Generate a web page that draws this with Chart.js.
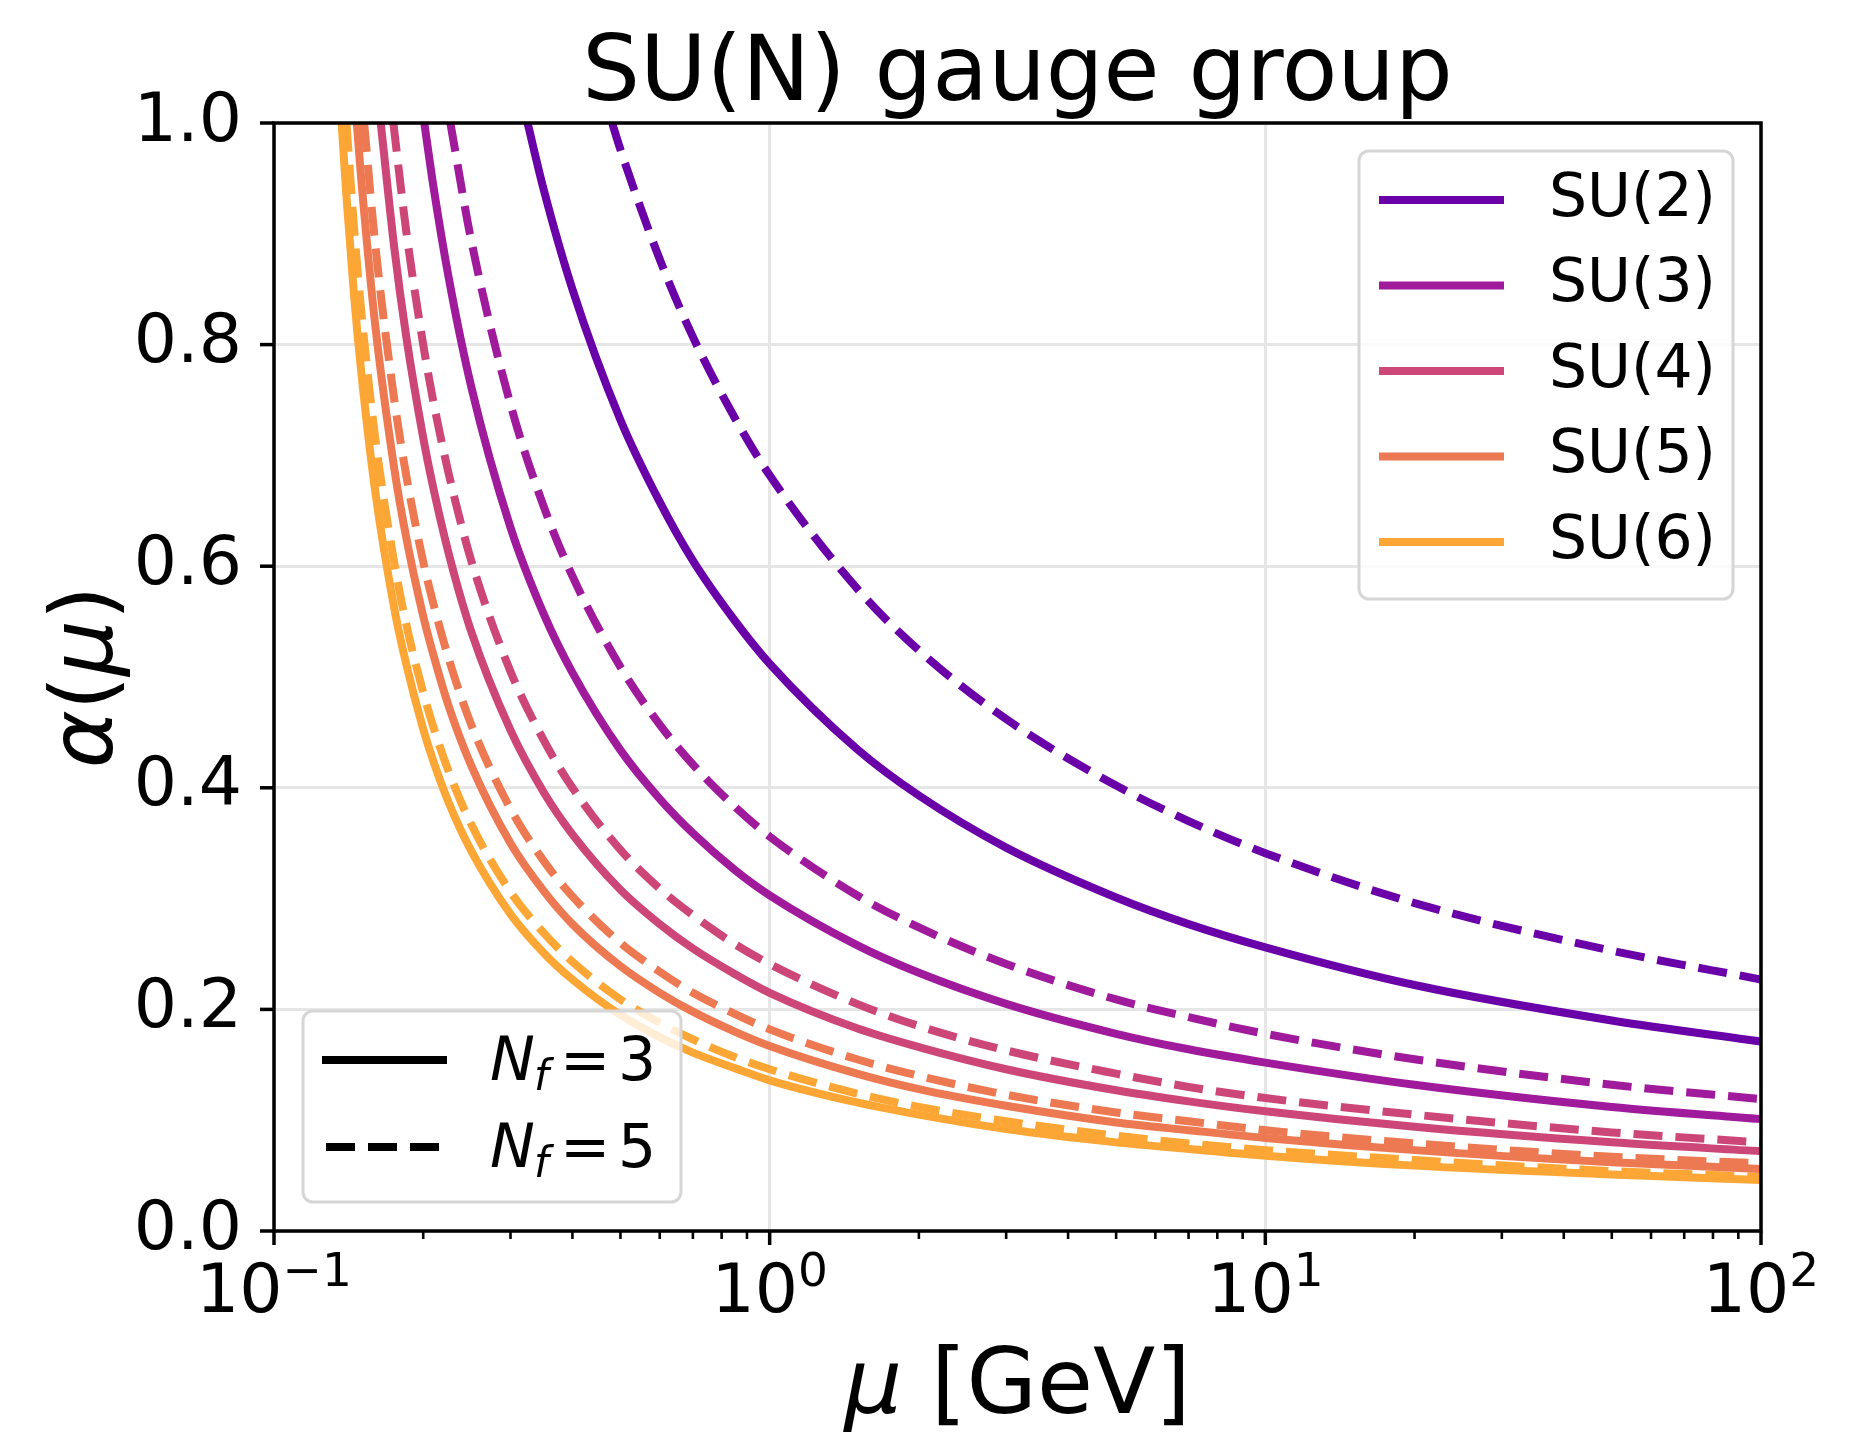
<!DOCTYPE html>
<html>
<head>
<meta charset="utf-8">
<script src="https://cdn.jsdelivr.net/npm/chart.js@4.4.1/dist/chart.umd.min.js"></script>
<style>
  html, body { margin: 0; padding: 0; background: #fff; }
  canvas { display: block; }
</style>
</head>
<body>
<canvas id="alphaChart" width="1852" height="1434"></canvas>
<script>
    // gauge groups and their colours (plasma-like)
    const groups = ['SU(2)', 'SU(3)', 'SU(4)', 'SU(5)', 'SU(6)'];
    const colors = ['#6a00a8', '#a01a9c', '#cc4778', '#ed7953', '#fca636'];

    // mu [GeV] where each curve leaves the top of the plot (alpha = 1)
    const muStartNf3 = [0.3248, 0.2010, 0.1642, 0.1469, 0.1369];
    const muStartNf5 = [0.4810, 0.2269, 0.1741, 0.1520, 0.1400];

    // shared mu grid, then alpha(mu) (null = above the plot)
    const muGrid = [0.14, 0.145, 0.15, 0.16, 0.175, 0.185, 0.2, 0.21, 0.225, 0.25, 0.3, 0.35, 0.4, 0.5, 0.6, 0.7, 0.85, 1, 1.5, 2, 3, 5, 7, 10, 20, 50, 100];
    const _ = null;
    const alphaSU2nf3 = [_, _, _, _, _, _, _, _, _, _, _, 0.940, 0.850, 0.732, 0.658, 0.605, 0.551, 0.512, 0.435, 0.393, 0.346, 0.301, 0.277, 0.256, 0.222, 0.190, 0.171];
    const alphaSU2nf5 = [_, _, _, _, _, _, _, _, _, _, _, _, _, 0.976, 0.877, 0.807, 0.734, 0.682, 0.580, 0.524, 0.462, 0.402, 0.370, 0.341, 0.296, 0.253, 0.227];
    const alphaSU3nf3 = [_, _, _, _, _, _, _, 0.941, 0.861, 0.762, 0.635, 0.557, 0.504, 0.434, 0.390, 0.359, 0.326, 0.303, 0.258, 0.233, 0.205, 0.178, 0.164, 0.152, 0.132, 0.112, 0.101];
    const alphaSU3nf5 = [_, _, _, _, _, _, _, _, _, 0.894, 0.746, 0.654, 0.591, 0.509, 0.457, 0.421, 0.383, 0.356, 0.303, 0.274, 0.241, 0.209, 0.193, 0.178, 0.155, 0.132, 0.119];
    const alphaSU4nf3 = [_, _, _, _, 0.886, 0.806, 0.716, 0.669, 0.612, 0.541, 0.452, 0.396, 0.358, 0.308, 0.277, 0.255, 0.232, 0.215, 0.183, 0.166, 0.146, 0.127, 0.117, 0.108, 0.094, 0.080, 0.072];
    const alphaSU4nf5 = [_, _, _, _, _, 0.901, 0.800, 0.747, 0.684, 0.605, 0.505, 0.443, 0.400, 0.344, 0.309, 0.285, 0.259, 0.241, 0.205, 0.185, 0.163, 0.142, 0.130, 0.120, 0.105, 0.089, 0.080];
    const alphaSU5nf3 = [_, _, 0.949, 0.818, 0.687, 0.625, 0.555, 0.519, 0.474, 0.420, 0.350, 0.307, 0.277, 0.239, 0.215, 0.198, 0.180, 0.167, 0.142, 0.128, 0.113, 0.098, 0.091, 0.084, 0.073, 0.062, 0.056];
    const alphaSU5nf5 = [_, _, _, 0.891, 0.749, 0.681, 0.604, 0.565, 0.517, 0.457, 0.381, 0.334, 0.302, 0.260, 0.234, 0.215, 0.196, 0.182, 0.155, 0.140, 0.123, 0.107, 0.099, 0.091, 0.079, 0.067, 0.061];
    const alphaSU6nf3 = [0.934, 0.845, 0.775, 0.668, 0.561, 0.511, 0.453, 0.423, 0.387, 0.343, 0.286, 0.251, 0.227, 0.195, 0.175, 0.161, 0.147, 0.136, 0.116, 0.105, 0.092, 0.080, 0.074, 0.068, 0.059, 0.051, 0.046];
    const alphaSU6nf5 = [_, 0.906, 0.830, 0.716, 0.602, 0.547, 0.486, 0.454, 0.415, 0.367, 0.306, 0.269, 0.243, 0.209, 0.188, 0.173, 0.157, 0.146, 0.124, 0.112, 0.099, 0.086, 0.079, 0.073, 0.064, 0.054, 0.049];

    const seriesNf3 = [alphaSU2nf3, alphaSU3nf3, alphaSU4nf3, alphaSU5nf3, alphaSU6nf3];
    const seriesNf5 = [alphaSU2nf5, alphaSU3nf5, alphaSU4nf5, alphaSU5nf5, alphaSU6nf5];

    // axis ticks
    const xTickValues = [0.1, 1, 10, 100];
    const xTickExponents = ['\u22121', '0', '1', '2'];
    const yTickValues = [0, 0.2, 0.4, 0.6, 0.8, 1.0];
    const xMinorTicks = [];
    for (let k = -1; k <= 1; k++) {
        for (let j = 1; j <= 9; j++) xMinorTicks.push(j * Math.pow(10, k));
    }
    xMinorTicks.push(100);

    const FONT = '"DejaVu Sans", sans-serif';
    const DASH = [29, 13];

    function isDecade(v) {
        const l = Math.log10(v);
        return Math.abs(l - Math.round(l)) < 1e-6;
    }

    function buildPoints(muStart, alphas) {
        const pts = [{ x: muStart, y: 1 }];
        muGrid.forEach((mu, i) => {
            if (alphas[i] !== null) pts.push({ x: mu, y: alphas[i] });
        });
        return pts;
    }

    const datasets = [];
    groups.forEach((name, i) => {
        datasets.push({
            label: name + ' Nf=3',
            data: buildPoints(muStartNf3[i], seriesNf3[i]),
            borderColor: colors[i],
            borderWidth: 8,
            pointRadius: 0,
            cubicInterpolationMode: 'monotone',
            clip: 0,
            fill: false
        });
        datasets.push({
            label: name + ' Nf=5',
            data: buildPoints(muStartNf5[i], seriesNf5[i]),
            borderColor: colors[i],
            borderWidth: 8,
            borderDash: DASH,
            pointRadius: 0,
            cubicInterpolationMode: 'monotone',
            clip: 0,
            fill: false
        });
    });

    // draws math-ish text made of [text, style, size, dx, dy] pieces
    function drawPieces(ctx, x, y, pieces) {
        pieces.forEach(p => {
            ctx.font = p[1] + ' ' + p[2] + 'px ' + FONT;
            ctx.fillText(p[0], x + p[3], y + p[4]);
        });
    }

    function legendBox(ctx, x, y, w, h) {
        ctx.beginPath();
        ctx.roundRect(x, y, w, h, 10);
        ctx.fillStyle = 'rgba(255,255,255,0.8)';
        ctx.fill();
        ctx.lineWidth = 3;
        ctx.strokeStyle = '#d6d6d6';
        ctx.stroke();
    }

    const decorPlugin = {
        id: 'decor',
        afterDraw(chart) {
            const { ctx, chartArea: a } = chart;
            const xs = chart.scales.x, ys = chart.scales.y;
            ctx.save();
            ctx.fillStyle = '#000';
            ctx.strokeStyle = '#000';

            // frame
            ctx.lineWidth = 3.5;
            ctx.strokeRect(a.left, a.top, a.right - a.left, a.bottom - a.top);

            // x tick marks
            xMinorTicks.forEach(v => {
                const px = xs.getPixelForValue(v);
                const major = isDecade(v);
                ctx.lineWidth = major ? 3.5 : 2.6;
                ctx.beginPath();
                ctx.moveTo(px, a.bottom);
                ctx.lineTo(px, a.bottom + (major ? 14 : 8));
                ctx.stroke();
            });
            // y tick marks
            yTickValues.forEach(v => {
                const py = ys.getPixelForValue(v);
                ctx.lineWidth = 3.5;
                ctx.beginPath();
                ctx.moveTo(a.left, py);
                ctx.lineTo(a.left - 14, py);
                ctx.stroke();
            });

            // x tick labels 10^k
            ctx.textBaseline = 'alphabetic';
            ctx.textAlign = 'left';
            xTickValues.forEach((v, i) => {
                const px = xs.getPixelForValue(v);
                ctx.font = '68px ' + FONT;
                const w1 = ctx.measureText('10').width;
                ctx.font = '47px ' + FONT;
                const w2 = ctx.measureText(xTickExponents[i]).width;
                const x0 = px - (w1 + w2) / 2;
                ctx.font = '68px ' + FONT;
                ctx.fillText('10', x0, 1312);
                ctx.font = '47px ' + FONT;
                ctx.fillText(xTickExponents[i], x0 + w1, 1286);
            });

            // title
            ctx.textAlign = 'center';
            ctx.font = '91px ' + FONT;
            ctx.fillText('SU(N) gauge group', (a.left + a.right) / 2, 100);

            // x axis title
            ctx.textAlign = 'left';
            ctx.font = 'italic 91px ' + FONT;
            const wMu = ctx.measureText('\u03bc').width;
            ctx.font = '91px ' + FONT;
            const wRest = ctx.measureText(' [GeV]').width;
            const xt = (a.left + a.right) / 2 - (wMu + wRest) / 2;
            drawPieces(ctx, xt, 1413, [['\u03bc', 'italic', 91, 0, 0], [' [GeV]', 'normal', 91, wMu, 0]]);

            // y axis title, rotated
            ctx.save();
            ctx.translate(112, (a.top + a.bottom) / 2);
            ctx.rotate(-Math.PI / 2);
            const yPieces = [['\u03b1', 'italic'], ['(', 'normal'], ['\u03bc', 'italic'], [')', 'normal']];
            let tot = 0;
            const widths = yPieces.map(p => {
                ctx.font = p[1] + ' 88px ' + FONT;
                const w = ctx.measureText(p[0]).width;
                tot += w;
                return w;
            });
            let cx = -tot / 2;
            yPieces.forEach((p, i) => {
                ctx.font = p[1] + ' 88px ' + FONT;
                ctx.fillText(p[0], cx, 0);
                cx += widths[i];
            });
            ctx.restore();

            // legend: gauge groups
            legendBox(ctx, 1359, 151, 374, 448);
            groups.forEach((name, i) => {
                const ly = 200 + i * 85.5;
                ctx.strokeStyle = colors[i];
                ctx.lineWidth = 8;
                ctx.setLineDash([]);
                ctx.beginPath();
                ctx.moveTo(1379, ly);
                ctx.lineTo(1504, ly);
                ctx.stroke();
                ctx.fillStyle = '#000';
                ctx.font = '60px ' + FONT;
                ctx.textBaseline = 'middle';
                ctx.fillText(name, 1549, ly);
            });

            // legend: flavour numbers
            ctx.textBaseline = 'alphabetic';
            legendBox(ctx, 303, 1011, 378, 191);
            [['3', 1060, []], ['5', 1147, DASH]].forEach(([nf, ly, dash]) => {
                ctx.strokeStyle = '#000';
                ctx.lineWidth = 8;
                ctx.setLineDash(dash);
                ctx.beginPath();
                if (dash.length) { ctx.moveTo(326, ly); ctx.lineTo(443, ly); }
                else { ctx.moveTo(322, ly); ctx.lineTo(447, ly); }
                ctx.stroke();
                ctx.setLineDash([]);
                ctx.fillStyle = '#000';
                drawPieces(ctx, 490, ly + 20, [
                    ['N', 'italic', 60, 0, 0],
                    ['f', 'italic', 42, 44, 10],
                    ['=', 'normal', 60, 70, 0],
                    [nf, 'normal', 60, 128, 0]
                ]);
            });

            ctx.restore();
        }
    };

    const ctx = document.getElementById('alphaChart').getContext('2d');
    new Chart(ctx, {
        type: 'line',
        data: { datasets: datasets },
        options: {
            responsive: false,
            animation: false,
            devicePixelRatio: 1,
            events: [],
            layout: { padding: { top: 123, right: 91, left: 0, bottom: 0 } },
            plugins: {
                legend: { display: false },
                title: { display: false },
                tooltip: { enabled: false }
            },
            scales: {
                x: {
                    type: 'logarithmic',
                    min: 0.1,
                    max: 100,
                    afterBuildTicks: s => { s.ticks = xMinorTicks.map(v => ({ value: v })); },
                    afterFit: s => { s.height = 203; },
                    ticks: { display: false },
                    grid: {
                        color: c => (c.tick && isDecade(c.tick.value)) ? '#e6e6e6' : 'rgba(0,0,0,0)',
                        lineWidth: 3,
                        drawTicks: false
                    },
                    border: { display: false }
                },
                y: {
                    min: 0,
                    max: 1,
                    afterBuildTicks: s => { s.ticks = yTickValues.map(v => ({ value: v })); },
                    afterFit: s => { s.width = 274; },
                    ticks: {
                        color: '#000',
                        padding: 32,
                        font: { family: 'DejaVu Sans', size: 68 },
                        callback: v => Number(v).toFixed(1)
                    },
                    grid: { color: '#e6e6e6', lineWidth: 3, drawTicks: false },
                    border: { display: false }
                }
            }
        },
        plugins: [decorPlugin]
    });
</script>
</body>
</html>
